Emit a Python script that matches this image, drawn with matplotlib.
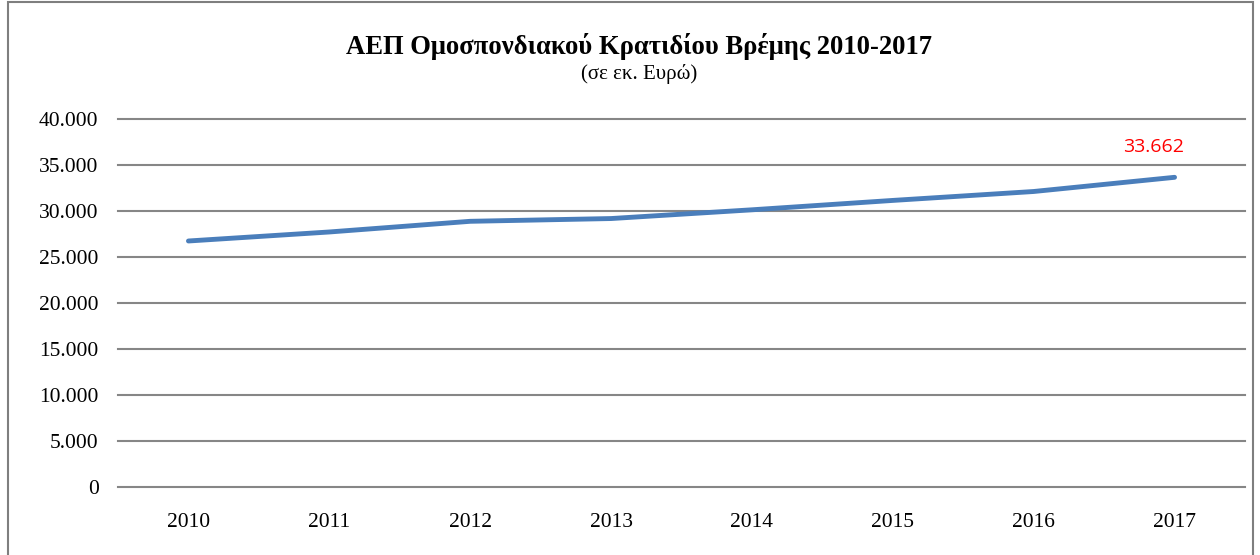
import matplotlib
matplotlib.use("Agg")
import matplotlib.pyplot as plt
from matplotlib.ticker import FuncFormatter, MultipleLocator
from matplotlib.patches import Rectangle

years = ["2010", "2011", "2012", "2013", "2014", "2015", "2016", "2017"]
gdp = [26740, 27720, 28880, 29180, 30130, 31150, 32120, 33662]
title = "ΑΕΠ Ομοσπονδιακού Κρατιδίου Βρέμης 2010-2017"
subtitle = "(σε εκ. Ευρώ)"

fig = plt.figure(figsize=(12.6, 5.55), dpi=100)
fig.patch.set_facecolor("white")
fig.add_artist(Rectangle((8 / 1260, -0.05), (1253 - 8) / 1260, 1.05 - 2 / 555,
                         transform=fig.transFigure, fill=False,
                         edgecolor="#7f7f7f", linewidth=1.5))

ax = fig.add_axes([118 / 1260, 1 - 487 / 555, (1245 - 118) / 1260, (487 - 119) / 555])
x = list(range(len(years)))
ax.plot(x, gdp, color="#4A7EBB", linewidth=3.5, solid_capstyle="round", zorder=3)
ax.set_xlim(-0.5, len(years) - 0.5)
ax.set_ylim(0, 40000)
ax.yaxis.set_major_locator(MultipleLocator(5000))
ax.yaxis.set_major_formatter(FuncFormatter(lambda v, p: f"{int(v):,}".replace(",", ".")))
ax.set_xticks(x)
ax.set_xticklabels(years)
ax.grid(axis="y", color="#868686", linewidth=1.5)
for gl in ax.get_ygridlines():
    gl.set_clip_on(False)
ax.set_axisbelow(True)
for s in ax.spines.values():
    s.set_visible(False)
ax.tick_params(axis="both", length=0, labelsize=15.5)
ax.tick_params(axis="y", pad=14)
ax.tick_params(axis="x", pad=19)
for lbl in ax.get_xticklabels() + ax.get_yticklabels():
    lbl.set_fontfamily("Liberation Serif")

ax.annotate(f"{gdp[-1]:,}".replace(",", "."), (x[-1], gdp[-1]), xytext=(-15, 22),
            textcoords="offset points", ha="center", va="center",
            color="#FF0000", fontsize=14, fontfamily="Open Sans")

fig.text(639 / 1260, 1 - 47 / 555, title, ha="center", va="center",
         fontsize=19.2, fontweight="bold", fontfamily="Liberation Serif")
fig.text(639 / 1260, 1 - 74 / 555, subtitle, ha="center", va="center",
         fontsize=15, fontfamily="Liberation Serif")

fig.savefig("out.png", dpi=100)
